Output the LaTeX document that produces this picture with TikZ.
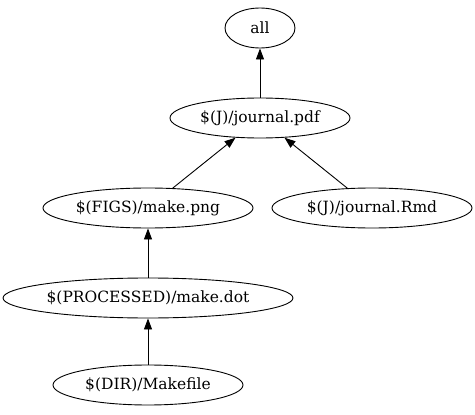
\documentclass[tikz,border=0pt]{standalone}
\usepackage{fontspec}
\setmainfont{DejaVu Serif}
\usetikzlibrary{shapes.geometric,arrows.meta}
\begin{document}
\begin{tikzpicture}[x=1pt,y=-1pt,
  nd/.style={ellipse,draw,line width=0.9pt,inner sep=0pt,minimum height=40pt,font=\fontsize{15.5}{18}\selectfont},
  edge/.style={draw,line width=0.9pt,-{Triangle[length=11pt,width=8pt]}}]
\useasboundingbox (0,0) rectangle (475,415);
\node[nd,minimum width=70pt] (all) at (260,28) {all};
\node[nd,minimum width=180pt] (pdf) at (260,118) {\$(J)/journal.pdf};
\node[nd,minimum width=210pt] (png) at (148,208) {\$(FIGS)/make.png};
\node[nd,minimum width=200pt] (rmd) at (372,208) {\$(J)/journal.Rmd};
\node[nd,minimum width=290pt] (dot) at (148,298) {\$(PROCESSED)/make.dot};
\node[nd,minimum width=190pt] (mk) at (148,385) {\$(DIR)/Makefile};
\draw[edge] (pdf) -- (all);
\draw[edge] (png) -- (pdf);
\draw[edge] (rmd) -- (pdf);
\draw[edge] (dot) -- (png);
\draw[edge] (mk) -- (dot);
\end{tikzpicture}
\end{document}
